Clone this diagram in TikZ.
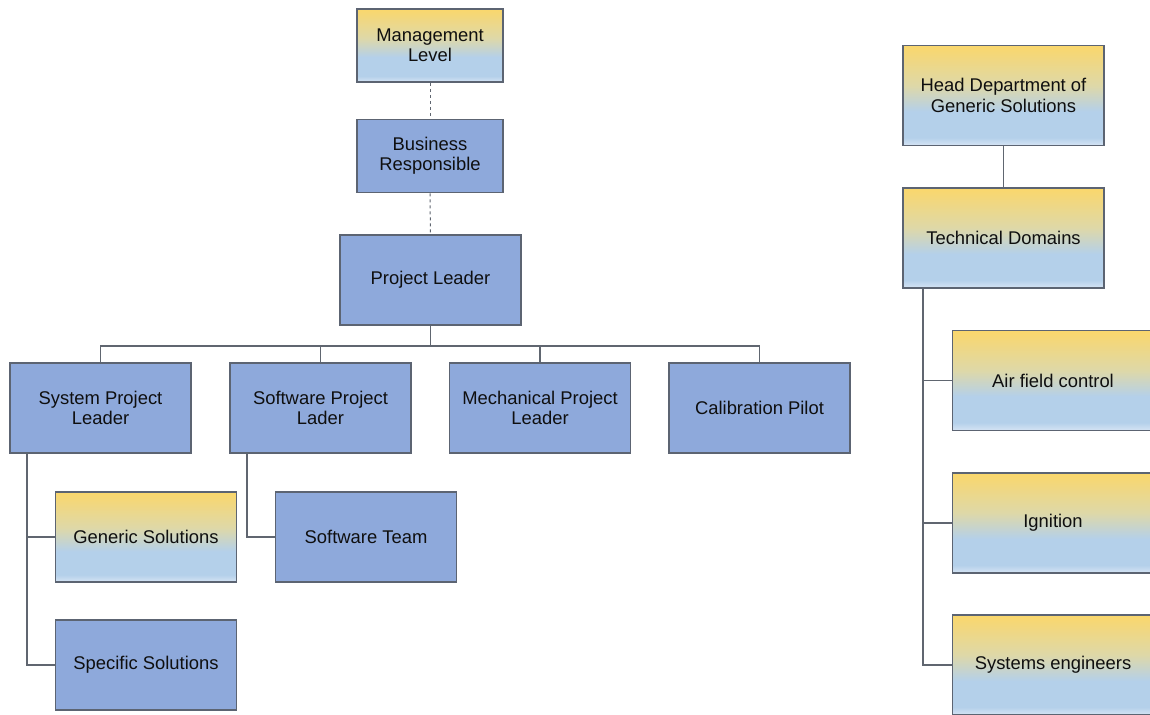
\documentclass[tikz,border=0pt]{standalone}
\usepackage{fontspec}
\setmainfont{Liberation Sans}
\usepackage{xcolor}
\usetikzlibrary{positioning,calc}
\definecolor{ink}{RGB}{15,15,15}
\definecolor{frame}{RGB}{92,100,114}
\definecolor{wire}{RGB}{96,102,112}
\definecolor{boxblue}{RGB}{142,169,219}
\definecolor{sun}{RGB}{250,215,108}
\definecolor{dusk}{RGB}{222,216,168}
\definecolor{sky}{RGB}{180,208,234}
\definecolor{skylow}{RGB}{214,228,244}
\pgfdeclareverticalshading{sunsky}{100bp}{%
  color(0bp)=(skylow); color(25bp)=(skylow); color(29bp)=(sky);
  color(42bp)=(sky); color(55bp)=(dusk); color(75bp)=(sun); color(100bp)=(sun)}
\tikzset{
  box/.style={draw=frame, rectangle, align=center, inner sep=2pt, text=ink,
    font=\fontsize{9.2}{10.2}\selectfont, line width=0.85pt},
  bbox/.style={box, fill=boxblue},
  gbox/.style={box, shading=sunsky},
  small/.style={minimum width=73pt, minimum height=36.5pt},
  mid/.style={minimum width=90.5pt, minimum height=45pt},
  wide/.style={minimum width=100.5pt, minimum height=50pt},
  link/.style={draw=wire, line width=0.9pt},
  dotlink/.style={draw=wire, line width=0.5pt, dash pattern=on 1.5pt off 1.5pt},
}
\begin{document}
\begin{tikzpicture}[x=0.5pt,y=-0.5pt]
  \useasboundingbox (0,0) rectangle (1150,714);
  % left tree
  \node[gbox,small] (mgmt) at (430,45.5) {Management\\Level};
  \node[bbox,small] (busi) at (430,156) {Business\\Responsible};
  \node[bbox,mid] (lead) at (430.5,280) {Project Leader};
  \node[bbox,mid] (sysl) at (100.5,408) {System Project\\Leader};
  \node[bbox,mid] (swl) at (320.5,408) {Software Project\\Lader};
  \node[bbox,mid] (mech) at (540,408) {Mechanical Project\\Leader};
  \node[bbox,mid] (calib) at (759.5,408) {Calibration Pilot};
  \node[gbox,mid] (gen) at (146,537) {Generic Solutions};
  \node[bbox,mid] (spec) at (146,665) {Specific Solutions};
  \node[bbox,mid] (swteam) at (366,537) {Software Team};
  \draw[dotlink] (mgmt) -- (busi);
  \draw[dotlink] (busi) -- (lead);
  \foreach \kid in {sysl,swl,mech,calib}
    \draw[link] (lead.south) -- ++(0,20) -| (\kid.north);
  \draw[link] ([xshift=9pt]sysl.south west) |- (gen.west);
  \draw[link] ([xshift=9pt]sysl.south west) |- (spec.west);
  \draw[link] ([xshift=9pt]swl.south west) |- (swteam.west);
  % right tree
  \node[gbox,wide] (head) at (1003.5,95.5) {Head Department of\\Generic Solutions};
  \node[gbox,wide] (tech) at (1003.5,238) {Technical Domains};
  \node[gbox,wide] (air) at (1053,380.5) {Air field control};
  \node[gbox,wide] (ign) at (1053,523) {Ignition};
  \node[gbox,wide] (syseng) at (1053,665) {Systems engineers};
  \draw[link] (head) -- (tech);
  \foreach \kid in {air,ign,syseng}
    \draw[link] ([xshift=10.5pt]tech.south west) |- (\kid.west);
\end{tikzpicture}
\end{document}
